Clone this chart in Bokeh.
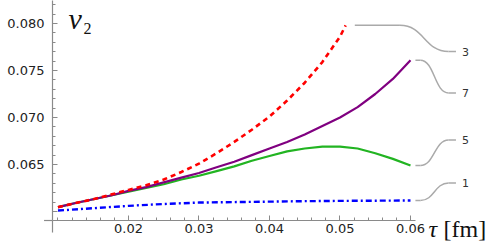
from bokeh.plotting import figure
from bokeh.models import Range1d, FixedTicker, NumeralTickFormatter, Label
from bokeh.core.properties import value
from bokeh.embed import file_html
from bokeh.resources import INLINE

# ---- data ----
tau_full = [0.0100, 0.0125, 0.0150, 0.0175, 0.0200, 0.0225, 0.0250, 0.0275, 0.0300,
            0.0325, 0.0350, 0.0375, 0.0400, 0.0425, 0.0450, 0.0475, 0.0500, 0.0525,
            0.0550, 0.0575, 0.0600]
v2_purple = [0.06046, 0.0609, 0.0613, 0.0617, 0.0622, 0.0626, 0.0631, 0.0636, 0.0641,
             0.0647, 0.0653, 0.0660, 0.0667, 0.0674, 0.0682, 0.0691, 0.0700, 0.0711,
             0.0725, 0.0741, 0.0761]
v2_green = [0.06046, 0.0609, 0.0613, 0.0617, 0.0621, 0.0625, 0.0629, 0.0634, 0.0638,
            0.0643, 0.0648, 0.0654, 0.0659, 0.0664, 0.0667, 0.0669, 0.0669, 0.0667,
            0.0662, 0.0656, 0.0649]
tau_red = [0.0100, 0.0125, 0.0150, 0.0175, 0.0200, 0.0225, 0.0250, 0.0275, 0.0300,
           0.0325, 0.0350, 0.0375, 0.0400, 0.0425, 0.0450, 0.0475, 0.0500, 0.0508]
v2_red = [0.06046, 0.0609, 0.0613, 0.0618, 0.0623, 0.0628, 0.0634, 0.0642, 0.0651,
          0.0662, 0.0674, 0.0687, 0.0701, 0.0718, 0.0737, 0.0759, 0.0786, 0.0798]
tau_blue = [0.0100, 0.0150, 0.0200, 0.0250, 0.0300, 0.0350, 0.0400, 0.0450, 0.0500,
            0.0550, 0.0600]
v2_blue = [0.0601, 0.06035, 0.0606, 0.0608, 0.06095, 0.0610, 0.06105, 0.0611, 0.06113,
           0.06115, 0.06117]

callout_names = ["3", "7", "5", "1"]
callout_label_y = [0.07702, 0.07261, 0.06761, 0.06303]

x_major = [0.02, 0.03, 0.04, 0.05, 0.06]
x_minor = [0.010, 0.012, 0.014, 0.016, 0.018, 0.020, 0.022, 0.024, 0.026, 0.028,
           0.030, 0.032, 0.034, 0.036, 0.038, 0.040, 0.042, 0.044, 0.046, 0.048,
           0.050, 0.052, 0.054, 0.056, 0.058, 0.060]
y_major = [0.060, 0.065, 0.070, 0.075, 0.080]
y_minor = [0.060, 0.061, 0.062, 0.063, 0.064, 0.065, 0.066, 0.067, 0.068,
           0.069, 0.070, 0.071, 0.072, 0.073, 0.074, 0.075, 0.076, 0.077, 0.078,
           0.079, 0.080, 0.081, 0.082]

X0, X1 = 0.00922, 0.07149
Y0, Y1 = 0.059043, 0.082446

# ---- figure ----
p = figure(width=491, height=244, output_backend="svg", toolbar_location=None,
           x_range=Range1d(X0, X1), y_range=Range1d(Y0, Y1),
           min_border_left=52, min_border_right=0, min_border_top=0, min_border_bottom=24)
p.outline_line_color = None
p.grid.visible = False
p.background_fill_color = "white"

axis_gray = "#8a8a8a"
tick_font = "13px"

xa = p.xaxis[0]
xa.ticker = FixedTicker(ticks=x_major, minor_ticks=x_minor)
xa.formatter = NumeralTickFormatter(format="0.00")
xa.bounds = (X0, 0.0607)
ya = p.yaxis[0]
ya.ticker = FixedTicker(ticks=y_major, minor_ticks=y_minor)
ya.formatter = NumeralTickFormatter(format="0.000")
ya.major_label_overrides = {0.06: ""}
for ax in (xa, ya):
    ax.axis_line_color = axis_gray
    ax.axis_line_width = 1.2
    ax.major_tick_line_color = axis_gray
    ax.minor_tick_line_color = axis_gray
    ax.major_tick_in = 5
    ax.major_tick_out = 0
    ax.minor_tick_in = 3
    ax.minor_tick_out = 0
    ax.major_label_text_font = "DejaVu Sans"
    ax.major_label_text_font_size = tick_font
    ax.major_label_text_color = "#222222"
xa.major_label_standoff = 3
ya.major_label_standoff = 8

# axis continuations beyond the crossing point (Mathematica style)
p.segment(x0=[X0], y0=[Y0], x1=[X0], y1=[Y0 - 0.00128], line_color=axis_gray,
          line_width=1.2, level="overlay")
p.segment(x0=[X0], y0=[Y0], x1=[X0 - 0.0012], y1=[Y0], line_color=axis_gray,
          line_width=1.2, level="overlay")

# ---- curves ----
p.line(tau_blue, v2_blue, line_color="#0000ff", line_width=2.4, line_dash="6 3 2 3")
p.line(tau_full, v2_green, line_color="#22b422", line_width=2.2)
p.line(tau_full, v2_purple, line_color="#800080", line_width=2.2)
p.line(tau_red, v2_red, line_color="#ff0000", line_width=2.6, line_dash="5 4")

# ---- callouts ----
ends = [(tau_red[-1], v2_red[-1]), (tau_full[-1], v2_purple[-1]),
        (tau_full[-1], v2_green[-1]), (tau_blue[-1], v2_blue[-1])]
gaps = [0.0013, 0.0007, 0.0007, 0.0007]
bend_start = [0.0585, 0.0614, 0.0614, 0.0614]
bend_end = 0.0654
lead_end = 0.06645
gray = "#aaaaaa"
for (ex, ey), g, bs, ly in zip(ends, gaps, bend_start, callout_label_y):
    p.line([ex + g, bs], [ey, ey], line_color=gray, line_width=1.5)
    dx = bend_end - bs
    p.bezier(x0=[bs], y0=[ey], x1=[bend_end], y1=[ly],
             cx0=[bs + 0.5 * dx], cy0=[ey], cx1=[bend_end - 0.5 * dx], cy1=[ly],
             line_color=gray, line_width=1.5)
    p.line([bend_end, lead_end], [ly, ly], line_color=gray, line_width=1.5)

p.text(x=[0.0673] * 4, y=callout_label_y, text=callout_names,
       text_font=value("DejaVu Sans"), text_font_size="11px", text_color="#333333",
       text_align="left", text_baseline="middle")

# ---- axis titles ----
p.add_layout(Label(x=0.01149, y=0.08050, text="v", text_font="Liberation Serif",
                   text_font_style="italic", text_font_size="30px", text_color="#111111",
                   text_baseline="alphabetic"))
p.add_layout(Label(x=0.01362, y=0.07946, text="2", text_font="Liberation Serif",
                   text_font_size="16px", text_color="#111111", text_baseline="alphabetic"))
p.text(x=[0.06255], y=[0.05809], text=["τ"], text_font=value("Liberation Serif"),
       text_font_style="italic", text_font_size="24px", text_color="#111111",
       text_baseline="alphabetic", level="overlay")
p.text(x=[0.06468], y=[0.05809], text=["[fm]"], text_font=value("Liberation Serif"),
       text_font_size="24px", text_color="#111111",
       text_baseline="alphabetic", level="overlay")

open("out.html", "w").write(file_html(p, INLINE))
